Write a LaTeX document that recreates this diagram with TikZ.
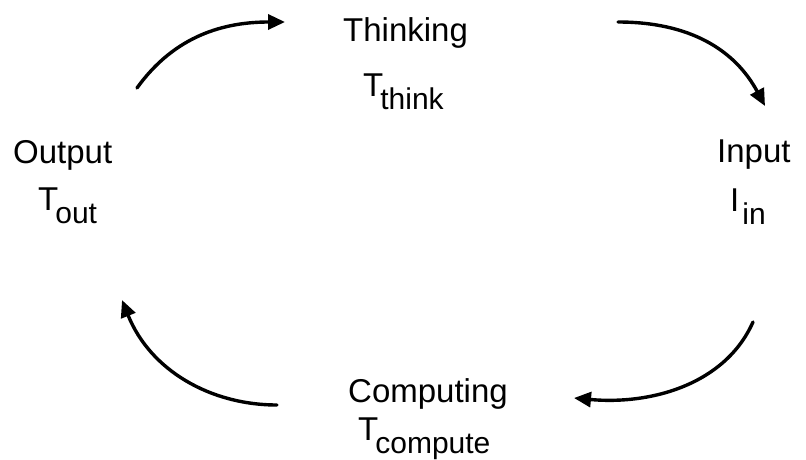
\documentclass[tikz,border=0pt]{standalone}
\usepackage{fontspec}
\setmainfont{Liberation Sans}
\usetikzlibrary{arrows.meta}
\begin{document}
\begin{tikzpicture}[x=1pt,y=-1pt,
  lbl/.style={inner sep=0pt,anchor=base west,font=\fontsize{33}{38}\selectfont},
  cyc/.style={line width=3.4pt,line cap=round,-{Triangle[length=17pt,width=15pt]}}]
\useasboundingbox (0,0) rectangle (806,460);
\newcommand{\sbx}[1]{\lower13pt\hbox{\fontsize{30}{34}\selectfont #1}}
\node[lbl] (thinking) at (343,42) {Thinking};
\node[lbl] (tthink) at (363,96) {T\kern-3pt\sbx{think}};
\node[lbl] (output) at (13,163) {Output};
\node[lbl] (tout) at (38,210) {T\kern-3pt\sbx{out}};
\node[lbl] (input) at (717,162) {Input};
\node[lbl] (iin) at (730,211) {I\kern3pt\sbx{in}};
\node[lbl] (computing) at (348,402) {Computing};
\node[lbl] (tcompute) at (358,440) {T\kern-3pt\sbx{compute}};
\coordinate (a1s) at (137,88);
\coordinate (a1e) at (285,22);
\coordinate (a2s) at (618,22);
\coordinate (a2e) at (765,106);
\coordinate (a3s) at (753,322);
\coordinate (a3e) at (574,398);
\coordinate (a4s) at (277,405);
\coordinate (a4e) at (122,300);
\draw[cyc] (a1s) .. controls (175,35) and (225,22) .. (a1e);
\draw[cyc] (a2s) .. controls (690,22) and (735,50) .. (a2e);
\draw[cyc] (a3s) .. controls (725,385) and (650,405) .. (a3e);
\draw[cyc] (a4s) .. controls (210,405) and (150,370) .. (a4e);
\end{tikzpicture}
\end{document}
